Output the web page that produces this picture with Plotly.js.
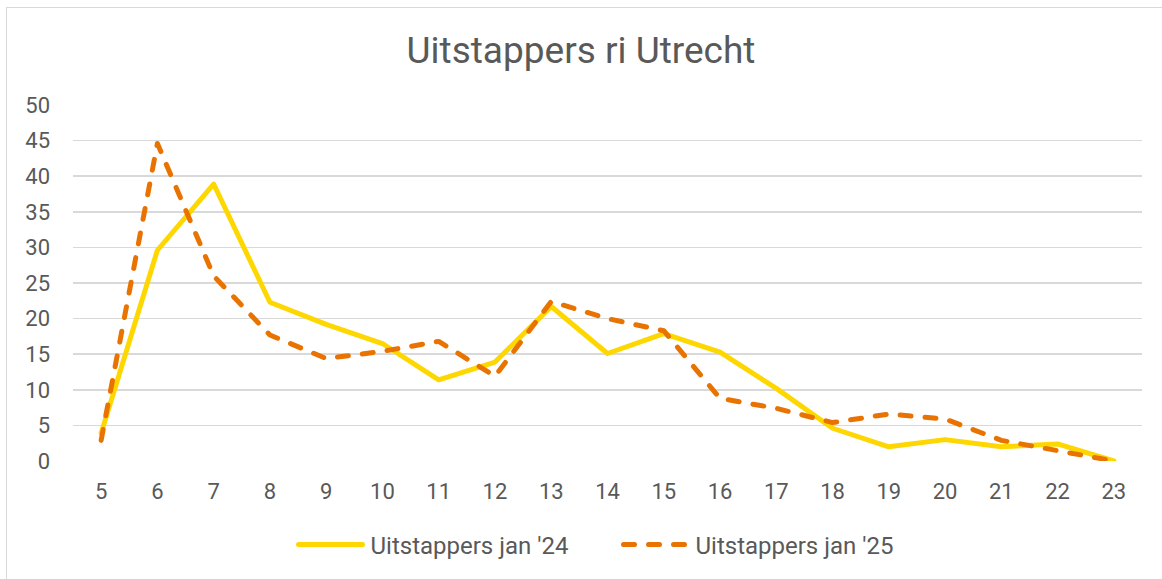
<!DOCTYPE html>
<html>
<head>
<meta charset="utf-8">
<script src="https://cdn.plot.ly/plotly-3.0.1.min.js"></script>
<style>
  html, body { margin: 0; padding: 0; background: #ffffff; overflow: hidden; }
  #chart { position: absolute; left: 0; top: 0; width: 1162px; height: 579px; }
  #frame { position: absolute; left: 6px; top: 7px; width: 1200px; height: 600px;
           border-left: 1.5px solid #d9d9d9; border-top: 1.5px solid #d9d9d9; pointer-events: none; }
  #chart .scatterlayer path.js-line, #chart .legendlines path { stroke-linecap: round; stroke-linejoin: round; }
</style>
</head>
<body>
<div id="chart"></div>
<div id="frame"></div>
<script>
const hours = ['5','6','7','8','9','10','11','12','13','14','15','16','17','18','19','20','21','22','23'];
const jan24 = [3.9, 29.6, 38.9, 22.3, 19.2, 16.5, 11.4, 13.9, 21.7, 15.1, 17.9, 15.3, 10.2, 4.6, 2.0, 3.0, 2.0, 2.4, 0];
const jan25 = [2.9, 44.6, 26.0, 17.7, 14.4, 15.4, 16.8, 11.9, 22.4, 20.0, 18.3, 8.8, 7.4, 5.4, 6.6, 5.9, 2.9, 1.5, 0];
const seriesNames = ["Uitstappers jan '24", "Uitstappers jan '25"];

const textColor = '#595959';
const data = [
  { x: hours, y: jan24, type: 'scatter', mode: 'lines', name: seriesNames[0],
    line: { color: '#FFD700', width: 5 } },
  { x: hours, y: jan25, type: 'scatter', mode: 'lines', name: seriesNames[1],
    line: { color: '#E97300', width: 5, dash: '11px,14px' } }
];

const layout = {
  width: 1162, height: 579,
  paper_bgcolor: '#ffffff', plot_bgcolor: '#ffffff',
  margin: { l: 73, r: 20, t: 105, b: 118 },
  font: { family: 'Roboto, sans-serif', color: textColor, size: 22 },
  title: { text: 'Uitstappers ri Utrecht', font: { size: 37, color: textColor, family: 'Roboto, sans-serif' },
           x: 0.5, xanchor: 'center', y: 0.913, yanchor: 'middle' },
  xaxis: { type: 'category', range: [-0.5, 18.5], showgrid: false, zeroline: false, showline: false, ticks: '',
           tickfont: { size: 22, color: textColor }, ticklabelstandoff: 15 },
  yaxis: { range: [0, 50], dtick: 5, showgrid: true, gridcolor: '#d9d9d9', gridwidth: 1.5,
           zeroline: false, showline: false, ticks: '',
           tickfont: { size: 22, color: textColor }, ticklabelstandoff: 22 },
  showlegend: true,
  legend: { orientation: 'h', x: 0.5075, xanchor: 'center', y: -0.236, yanchor: 'middle',
            font: { size: 24, color: textColor }, itemwidth: 70, entrywidth: 240, entrywidthmode: 'pixels',
            traceorder: 'normal' }
};

Plotly.newPlot('chart', data, layout, { displayModeBar: false, staticPlot: true }).then(function (gd) {
  // lengthen legend sample lines to fill the symbol area
  gd.querySelectorAll('.legend .legendlines path').forEach(function (p) {
    p.setAttribute('d', 'M8,0h64');
  });
});
</script>
</body>
</html>
